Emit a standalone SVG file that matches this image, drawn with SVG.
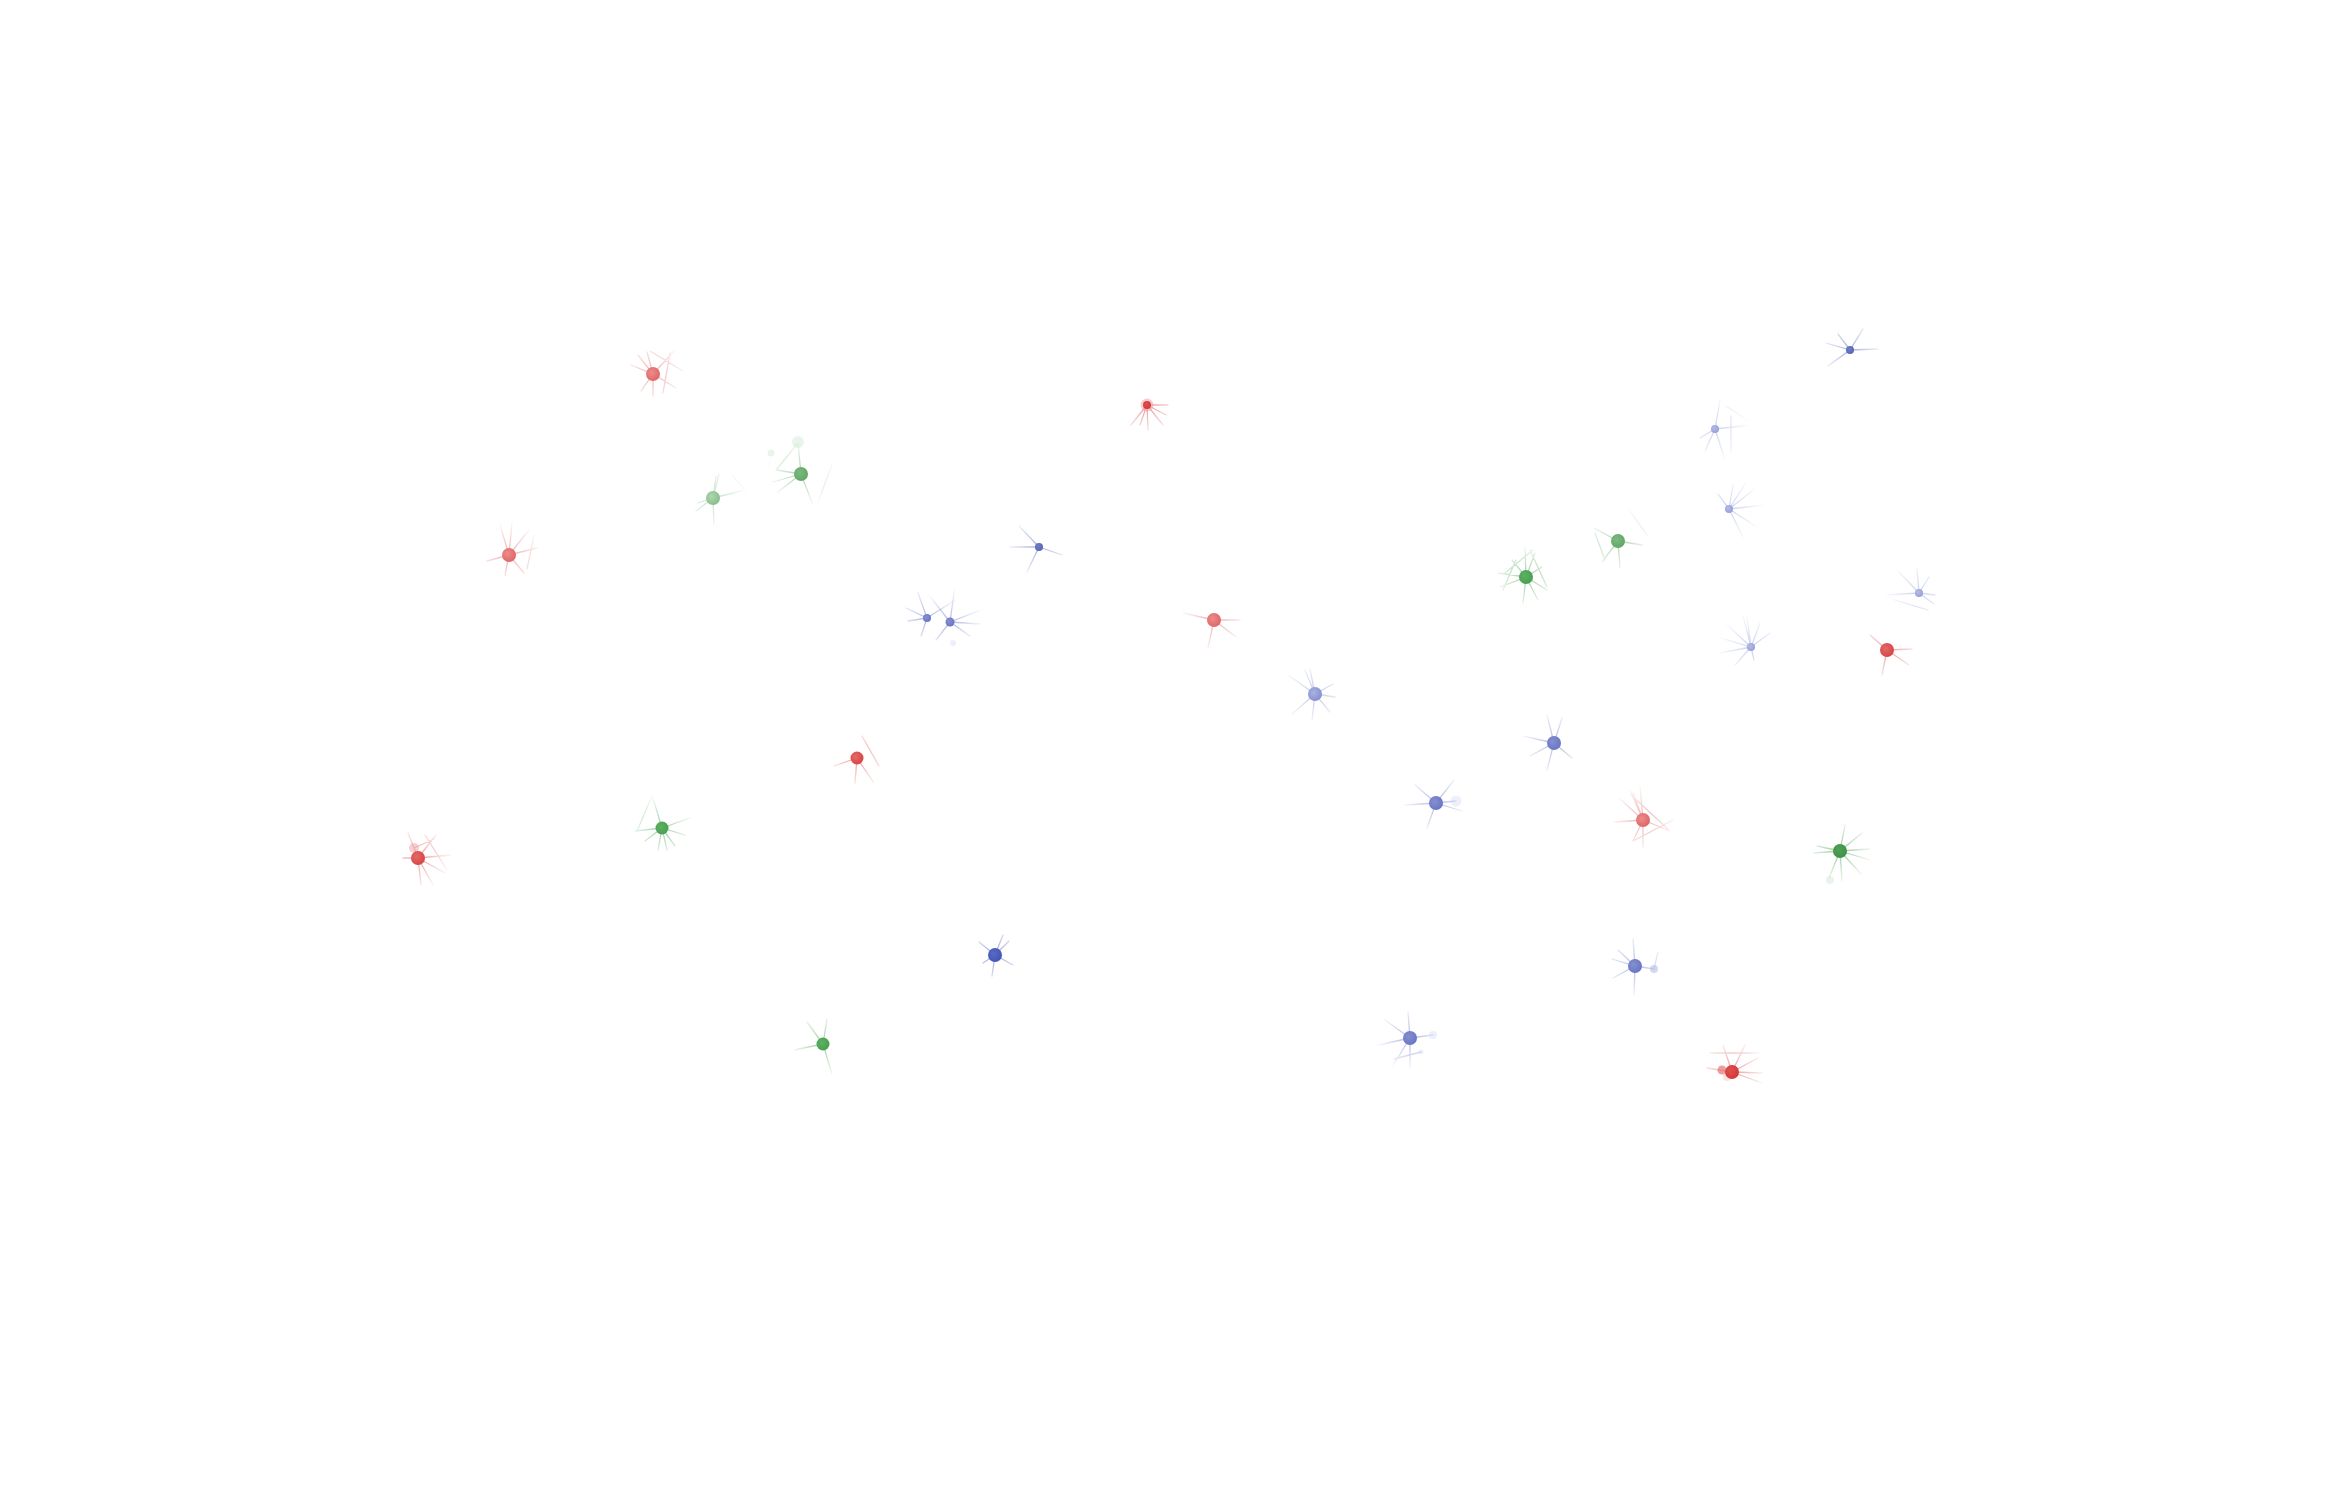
<svg xmlns="http://www.w3.org/2000/svg" width="2336" height="1501" viewBox="0 0 2336 1501">
<style>
.ray{fill:none;stroke-width:1.3;stroke-linecap:round;stroke-opacity:0.55}
.r1{stroke:#e06666}.r2{stroke:#d94545}.r3{stroke:#d63a3a}
.g1{stroke:#5fa866}.g2{stroke:#8cc391}.g3{stroke:#45a04d}.g4{stroke:#3d9444}
.b1{stroke:#3f51b5}.b2{stroke:#5766bb}.b3{stroke:#6a78c4}.b4{stroke:#8a95d2}.b5{stroke:#9ea7da}
.ghost{opacity:0.3}
</style>
<defs>
<radialGradient id="fg"><stop offset="0" stop-color="#fff"/><stop offset="0.2" stop-color="#bbb"/><stop offset="0.85" stop-color="#000"/></radialGradient>
<mask id="fade" maskUnits="userSpaceOnUse" x="-70" y="-70" width="140" height="140"><circle r="42" fill="url(#fg)"/></mask>
<radialGradient id="R1" cx="0.4" cy="0.4" r="0.7"><stop offset="0" stop-color="#eb8c8c"/><stop offset="1" stop-color="#df6161"/></radialGradient>
<radialGradient id="R2" cx="0.4" cy="0.4" r="0.7"><stop offset="0" stop-color="#e36a6a"/><stop offset="1" stop-color="#d73f3f"/></radialGradient>
<radialGradient id="R3" cx="0.4" cy="0.4" r="0.7"><stop offset="0" stop-color="#dd5050"/><stop offset="1" stop-color="#d43434"/></radialGradient>
<radialGradient id="G1" cx="0.4" cy="0.4" r="0.7"><stop offset="0" stop-color="#7bb980"/><stop offset="1" stop-color="#5ea564"/></radialGradient>
<radialGradient id="G2" cx="0.4" cy="0.4" r="0.7"><stop offset="0" stop-color="#b0d6b3"/><stop offset="1" stop-color="#7fbb85"/></radialGradient>
<radialGradient id="G3" cx="0.4" cy="0.4" r="0.7"><stop offset="0" stop-color="#5fae66"/><stop offset="1" stop-color="#43a04b"/></radialGradient>
<radialGradient id="G4" cx="0.4" cy="0.4" r="0.7"><stop offset="0" stop-color="#52a058"/><stop offset="1" stop-color="#3a9242"/></radialGradient>
<radialGradient id="B1" cx="0.4" cy="0.4" r="0.7"><stop offset="0" stop-color="#5a6bc2"/><stop offset="1" stop-color="#3f51b5"/></radialGradient>
<radialGradient id="B2" cx="0.4" cy="0.4" r="0.7"><stop offset="0" stop-color="#6f7dc6"/><stop offset="1" stop-color="#5262b8"/></radialGradient>
<radialGradient id="B3" cx="0.4" cy="0.4" r="0.7"><stop offset="0" stop-color="#8590d0"/><stop offset="1" stop-color="#6572c2"/></radialGradient>
<radialGradient id="B4" cx="0.4" cy="0.4" r="0.7"><stop offset="0" stop-color="#aab2e0"/><stop offset="1" stop-color="#808cce"/></radialGradient>
<radialGradient id="B5" cx="0.4" cy="0.4" r="0.7"><stop offset="0" stop-color="#b4bbe4"/><stop offset="1" stop-color="#939dd6"/></radialGradient>
</defs>
<rect width="2336" height="1501" fill="#fff"/>
<g id="connectors">
<g transform="translate(653,374)"><path mask="url(#fade)" class="ray r1" d="M0 0l-15-19M0 0l22-24M0 0l23 14M0 0l0 22M0 0l-12 17M0 0l-22-9M0 0l-6-22M-3-23l33 20M17-21l-7 40"/></g>
<g transform="translate(509,555)"><path mask="url(#fade)" class="ray r1" d="M0 0l-9-30M0 0l3-32M0 0l20-25M0 0l28-7M0 0l15 18M0 0l-4 20M0 0l-22 6M25-19l-7 33"/></g>
<g transform="translate(713,498)"><path mask="url(#fade)" class="ray g2" d="M0 0l3-22M0 0l6-24M0 0l32-8M0 0l-17 13M0 0l1 27M0 0l-15 5M20-22l12 14"/></g>
<g transform="translate(801,474)"><path mask="url(#fade)" class="ray g1" d="M0 0l-3-31M0 0l-25-4M0 0l-28 8M0 0l-23 18M0 0l12 31M32-12l-16 43M-3-31l-22 27M-30-21l-2 14"/></g>
<g transform="translate(418,858)"><path mask="url(#fade)" class="ray r2" d="M0 0l-4-10M0 0l18-23M0 0l33-3M0 0l27 15M0 0l15 27M0 0l3 27M0 0l-15 0M0 0l-10-25M7-23l22 35M-4-10l20-9"/></g>
<g transform="translate(662,828)"><path mask="url(#fade)" class="ray g3" d="M0 0l-10-33M-25 3l15-35M0 0l28-10M0 0l23 7M0 0l13 18M0 0l5 22M0 0l-4 22M0 0l-17 13M0 0l-27 3"/></g>
<g transform="translate(857,758)"><path mask="url(#fade)" class="ray r2" d="M0 0l-23 8M0 0l-2 25M0 0l17 25M5-22l17 30"/></g>
<g transform="translate(823,1044)"><path mask="url(#fade)" class="ray g3" d="M0 0l-16-22M0 0l4-25M0 0l-29 6M0 0l9 30"/></g>
<g transform="translate(1147,405)"><path mask="url(#fade)" class="ray r3" d="M0 0l21 0M0 0l19 10M0 0l16 20M0 0l1 25M0 0l-7 20M0 0l-16 20"/></g>
<g transform="translate(1039,547)"><path mask="url(#fade)" class="ray b2" d="M0 0l-20-21M0 0l-29 0M0 0l23 8M0 0l-12 25"/></g>
<g transform="translate(927,618)"><path mask="url(#fade)" class="ray b3" d="M0 0l-9-25M0 0l-21-10M0 0l-19 3M0 0l-6 18M0 0l44-28"/></g>
<g transform="translate(950,622)"><path mask="url(#fade)" class="ray b3" d="M0 0l5-36M0 0l-25-32M0 0l31-12M0 0l30 2M0 0l20 14M0 0l-14 18"/></g>
<g transform="translate(1214,620)"><path mask="url(#fade)" class="ray r1" d="M0 0l26 0M0 0l22 17M0 0l-6 28M0 0l-31-7"/></g>
<g transform="translate(1315,694)"><path mask="url(#fade)" class="ray b4" d="M0 0l-27-19M0 0l-10-24M0 0l-5-25M0 0l18-10M0 0l20 3M0 0l15 18M0 0l-3 26M0 0l-23 20"/></g>
<g transform="translate(995,955)"><path mask="url(#fade)" class="ray b1" d="M0 0l-16-13M0 0l8-20M0 0l18 10M0 0l-3 21M0 0l-12 8M0 0l14-14"/></g>
<g transform="translate(1554,743)"><path mask="url(#fade)" class="ray b3" d="M0 0l-7-28M0 0l8-25M0 0l-31-7M0 0l-24 13M0 0l-7 27M0 0l18 15"/></g>
<g transform="translate(1436,803)"><path mask="url(#fade)" class="ray b3" d="M0 0l-21-18M0 0l-31 2M0 0l-9 25M0 0l26 8M0 0l20-2M0 0l18-23"/></g>
<g transform="translate(1643,820)"><path mask="url(#fade)" class="ray r1" d="M0 0l-23-21M0 0l-13-30M0 0l-3-34M0 0l-10-27M0 0l27 11M0 0l-28 2M0 0l0 28M0 0l-10 21M-12-25l38 35M30 0l-40 21"/></g>
<g transform="translate(1635,966)"><path mask="url(#fade)" class="ray b3" d="M0 0l-2-27M0 0l-17-16M0 0l-23-7M0 0l-22 12M0 0l-1 29M0 0l19 3M19 3l4-17"/></g>
<g transform="translate(1410,1038)"><path mask="url(#fade)" class="ray b3" d="M0 0l-2-26M0 0l-25-18M0 0l-40 9M0 0l-21 34M0 0l0 30M0 0l23-3M-16 21l27-7"/></g>
<g transform="translate(1732,1072)"><path mask="url(#fade)" class="ray r3" d="M0 0l13-27M0 0l-9-27M0 0l26-14M0 0l30 1M0 0l30 11M0 0l-25-4M-22-19l50 0"/></g>
<g transform="translate(1850,350)"><path mask="url(#fade)" class="ray b2" d="M0 0l13-21M0 0l-12-16M0 0l-24-7M0 0l28-1M0 0l-22 16"/></g>
<g transform="translate(1715,429)"><path mask="url(#fade)" class="ray b5" d="M0 0l36-4M0 0l5-29M0 0l10 31M0 0l-10 22M0 0l-15 9M11-23l27 18M16-13l0 37"/></g>
<g transform="translate(1729,509)"><path mask="url(#fade)" class="ray b5" d="M0 0l28-22M0 0l36-4M0 0l31 20M0 0l14 28M0 0l4-24M0 0l-11-15M0 0l16-25"/></g>
<g transform="translate(1618,541)"><path mask="url(#fade)" class="ray g1" d="M0 0l-24-13M0 0l24 4M0 0l-16 21M0 0l2 27M9-34l20 28M-23-8l10 27"/></g>
<g transform="translate(1526,577)"><path mask="url(#fade)" class="ray g3" d="M0 0l-1-29M0 0l-14-17M0 0l-28-4M0 0l-26 10M0 0l-3 26M0 0l12 23M0 0l21 13M0 0l16-10M0 0l9-24M-21-4l28-23M-23 13l13-30M4-27l17 37"/></g>
<g transform="translate(1919,593)"><path mask="url(#fade)" class="ray b5" d="M0 0l-20-21M0 0l-2-24M0 0l10-16M0 0l16 2M0 0l15 11M0 0l-34 2M-24 7l33 10"/></g>
<g transform="translate(1751,647)"><path mask="url(#fade)" class="ray b5" d="M0 0l-27-25M0 0l-9-35M0 0l-4-30M0 0l9-24M0 0l19-14M0 0l-34-10M0 0l-31 6M0 0l-16 18M0 0l3 13"/></g>
<g transform="translate(1887,650)"><path mask="url(#fade)" class="ray r2" d="M0 0l25-1M0 0l22 15M0 0l-5 25M0 0l-17-15"/></g>
<g transform="translate(1840,851)"><path mask="url(#fade)" class="ray g4" d="M0 0l5-26M0 0l22-18M0 0l30-2M0 0l30 9M0 0l22 24M0 0l2 30M0 0l-11 27M0 0l-23-5M0 0l-26 2"/></g>
</g>
<g id="ghosts">
<circle class="ghost" cx="798" cy="442" r="6" fill="#b5d9b8"/>
<circle class="ghost" cx="771" cy="453" r="3.5" fill="#b5d9b8"/>
<circle class="ghost" cx="414" cy="848" r="5" fill="#f0a0a0" style="opacity:0.5"/>
<circle class="ghost" cx="1147" cy="405" r="6.5" fill="#f0a0a0" style="opacity:0.5"/>
<circle class="ghost" cx="953" cy="643" r="3" fill="#c5cbee"/>
<circle class="ghost" cx="1456" cy="801" r="5.5" fill="#c5cbee"/>
<circle class="ghost" cx="1654" cy="969" r="4" fill="#aab2e0" style="opacity:0.5"/>
<circle class="ghost" cx="1433" cy="1035" r="4" fill="#c5cbee"/>
<circle class="ghost" cx="1421" cy="1052" r="2.5" fill="#c5cbee"/>
<circle class="ghost" cx="1722" cy="1070" r="4.5" fill="#e57373" style="opacity:0.7"/>
<circle class="ghost" cx="1727" cy="1077" r="4" fill="#f0a0a0"/>
<circle class="ghost" cx="1830" cy="880" r="4" fill="#b5d9b8"/>
</g>
<g id="n1"><circle cx="653" cy="374" r="7" fill="url(#R1)"/></g>
<g id="n2"><circle cx="1147" cy="405" r="4" fill="url(#R3)"/></g>
<g id="n3"><circle cx="801" cy="474" r="7" fill="url(#G1)"/></g>
<g id="n4"><circle cx="713" cy="498" r="7" fill="url(#G2)"/></g>
<g id="n5"><circle cx="509" cy="555" r="7" fill="url(#R1)"/></g>
<g id="n6"><circle cx="1039" cy="547" r="4" fill="url(#B2)"/></g>
<g id="n7"><circle cx="927" cy="618" r="4" fill="url(#B3)"/></g>
<g id="n8"><circle cx="950" cy="622" r="4.5" fill="url(#B3)"/></g>
<g id="n9"><circle cx="1214" cy="620" r="7" fill="url(#R1)"/></g>
<g id="n10"><circle cx="1315" cy="694" r="7" fill="url(#B4)"/></g>
<g id="n11"><circle cx="857" cy="758" r="6.5" fill="url(#R2)"/></g>
<g id="n12"><circle cx="662" cy="828" r="6.5" fill="url(#G3)"/></g>
<g id="n13"><circle cx="418" cy="858" r="7" fill="url(#R2)"/></g>
<g id="n14"><circle cx="995" cy="955" r="7" fill="url(#B1)"/></g>
<g id="n15"><circle cx="823" cy="1044" r="6.5" fill="url(#G3)"/></g>
<g id="n16"><circle cx="1410" cy="1038" r="7" fill="url(#B3)"/></g>
<g id="n17"><circle cx="1436" cy="803" r="7" fill="url(#B3)"/></g>
<g id="n18"><circle cx="1554" cy="743" r="7" fill="url(#B3)"/></g>
<g id="n19"><circle cx="1643" cy="820" r="7" fill="url(#R1)"/></g>
<g id="n20"><circle cx="1526" cy="577" r="7" fill="url(#G3)"/></g>
<g id="n21"><circle cx="1618" cy="541" r="7" fill="url(#G1)"/></g>
<g id="n22"><circle cx="1715" cy="429" r="4" fill="url(#B5)"/></g>
<g id="n23"><circle cx="1729" cy="509" r="4" fill="url(#B5)"/></g>
<g id="n24"><circle cx="1850" cy="350" r="4" fill="url(#B2)"/></g>
<g id="n25"><circle cx="1919" cy="593" r="4" fill="url(#B5)"/></g>
<g id="n26"><circle cx="1751" cy="647" r="4" fill="url(#B5)"/></g>
<g id="n27"><circle cx="1887" cy="650" r="7" fill="url(#R2)"/></g>
<g id="n28"><circle cx="1840" cy="851" r="7" fill="url(#G4)"/></g>
<g id="n29"><circle cx="1635" cy="966" r="7" fill="url(#B3)"/></g>
<g id="n30"><circle cx="1732" cy="1072" r="7" fill="url(#R3)"/></g>
</svg>
